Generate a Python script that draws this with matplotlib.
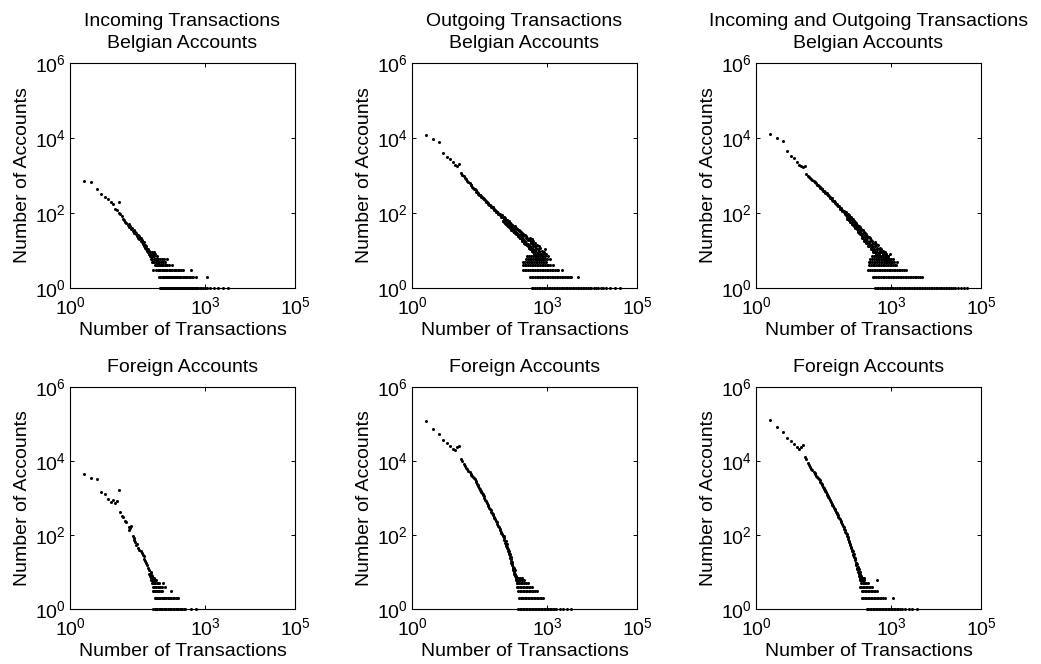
import matplotlib
matplotlib.use("Agg")
import matplotlib.pyplot as plt

plt.rcParams['font.family'] = ['Liberation Sans', 'DejaVu Sans']
plt.rcParams['mathtext.default'] = 'regular'

# ---- Incoming, Belgian accounts ----
ib_x = [2, 3, 4, 5, 6, 7, 8, 9, 10, 11, 12, 12, 13, 14, 15, 16, 17, 18, 19, 20, 21, 22, 23, 24, 25,
        26, 27, 28, 29, 30, 31, 32, 33, 34, 35, 36, 37, 38, 39, 40, 41, 42, 43, 44, 45, 46, 47, 48, 49,
        50, 52, 53, 55, 56, 58, 60, 62, 64]
ib_y = [724, 656, 444, 316, 271, 233, 200, 174, 126, 118, 200, 102, 92, 85, 70, 66, 58, 55, 48, 50,
        42, 44, 38, 40, 33, 36, 30, 31, 27, 29, 24, 26, 22, 25, 20, 21, 18, 22, 17, 19, 15, 16, 14, 17,
        13, 14, 12, 13, 11, 12, 10, 11, 9, 10, 8, 9, 8, 7]
ib_rows = {
    9: [55, 66, 72],
    8: [58, 63, 70, 78],
    7: [60, 66, 70, 75, 84],
    6: [64, 68, 72, 76, 80, 86, 92, 100, 110, 125, 140],
    5: [66, 70, 75, 80, 85, 90, 96, 104, 115, 130],
    4: [77, 80, 84, 88, 92, 96, 100, 106, 112, 118, 126, 135, 145, 160, 182],
    3: [71, 80, 88, 95, 102, 108, 115, 122, 130, 138, 146, 155, 165, 175, 188, 200, 215, 230, 250,
        270, 300, 330, 480],
    2: [96, 102, 108, 114, 120, 127, 134, 141, 149, 157, 166, 175, 185, 195, 206, 218, 230, 243, 256,
        270, 285, 300, 318, 336, 355, 375, 400, 430, 470, 510, 550, 640, 1120],
    1: [100, 105, 110, 116, 122, 128, 135, 142, 150, 158, 166, 175, 185, 195, 205, 216, 228, 240, 253,
        266, 280, 295, 310, 327, 345, 363, 382, 402, 424, 446, 470, 495, 520, 548, 577, 608, 640, 674,
        710, 760, 820, 900, 1000, 1090, 1300, 1590, 1990, 2560, 3300],
}

# ---- Outgoing, Belgian accounts ----
ob_x = [2, 3, 4, 5, 6, 7, 8, 9, 10, 11, 12, 13, 14, 15, 16, 17, 18, 19, 20, 22, 24, 26, 28, 30, 32,
        34, 36, 38, 40, 43, 46, 50, 53, 56, 60, 64, 68, 72, 76, 80, 85, 90, 95, 100]
ob_y = [12300, 9600, 7900, 4100, 3200, 2700, 2300, 1950, 1800, 2050, 1170, 1060, 950, 870, 790, 725,
        665, 615, 575, 500, 445, 400, 363, 330, 302, 280, 263, 246, 234, 214, 198, 178, 166, 155, 143,
        134, 124, 115, 108, 100, 93, 87, 81, 76]
ob_cx = [21, 23, 25, 27, 29, 31, 33, 35, 37, 39, 42, 45, 48, 52, 55, 58, 62, 66, 70, 74, 78, 83, 88,
         93, 98,
         103, 106, 110, 112, 115, 118, 121, 124, 127, 130, 134, 138, 142, 146, 150, 155, 160, 165, 170,
         175, 180, 186, 192, 198, 205, 212, 219, 226, 233, 240, 248, 256, 264, 272, 281, 290, 300, 310,
         320, 330, 341, 352, 364, 376, 388, 400, 414, 428, 442, 456, 470, 485, 500, 520, 540, 560, 580,
         600, 620, 650, 680, 720, 760, 800, 850, 900, 960,
         108, 120, 132, 144, 156, 168, 182, 196, 210, 228, 245, 262, 280, 300, 322, 345, 370, 395, 420,
         450, 480, 510, 545, 590, 640, 700, 760,
         101, 105, 109, 114, 117, 123, 129, 135, 140, 147, 153, 162, 171, 183, 190, 203, 214, 230, 238,
         252, 268, 285, 295, 315, 335, 358, 380, 405, 432, 460, 490, 525, 565, 610, 660, 730, 820, 1000,
         420, 460, 500, 540, 600, 650, 700, 780, 850, 890, 950, 1050, 1150, 530, 620, 710, 800, 910]
ob_cy = [560, 455, 430, 370, 350, 305, 295, 262, 258, 232, 225, 192, 185, 163, 162, 141, 142, 122, 121,
         106, 108, 92, 94, 80, 82,
         80, 62, 76, 58, 70, 54, 66, 50, 64, 47, 60, 45, 57, 42, 53, 39, 50, 36, 48, 34, 45, 31, 44, 29,
         40, 27, 38, 25, 36, 23, 34, 21, 32, 19, 30, 18, 27, 16, 26, 15, 24, 14, 22, 13, 20, 12, 19, 11,
         17, 10, 16, 9, 15, 8, 13, 7, 12, 6, 11, 9, 10, 8, 7, 9, 6, 7, 5,
         68, 60, 53, 48, 45, 41, 37, 34, 31, 28, 26, 24, 22, 20, 18, 16, 15, 14, 13, 12, 11, 10, 9, 8,
         7, 6, 6,
         88, 60, 80, 55, 74, 50, 66, 45, 60, 41, 55, 36, 48, 31, 42, 28, 37, 24, 33, 21, 28, 18, 25, 16,
         22, 14, 19, 12, 16, 10, 13, 8, 11, 6, 8, 6, 8, 6,
         22, 20, 18, 16, 14, 13, 12, 10, 9, 11, 8, 7, 6, 10, 9, 8, 7, 6]
ob_rows = {
    7: [360, 400, 440, 480, 530, 580, 640, 700],
    6: [340, 375, 410, 450, 490, 540, 590, 650, 720, 800],
    5: [300, 330, 360, 395, 430, 470, 515, 560, 610, 670, 730, 800, 870],
    4: [296, 322, 350, 382, 416, 453, 494, 538, 586, 640, 697, 760, 828, 902, 983, 1070, 1170, 1380],
    3: [296, 322, 350, 382, 416, 453, 494, 538, 586, 640, 697, 760, 828, 902, 983, 1070, 1170, 1270,
        1390, 1510, 1650, 1800, 2150],
    2: [420, 455, 495, 540, 590, 640, 700, 760, 830, 900, 980, 1070, 1160, 1270, 1380, 1500, 1640,
        1780, 1940, 2120, 2310, 2520, 2750, 3000, 3270, 3500, 5000],
    1: [457, 500, 545, 595, 650, 710, 775, 845, 920, 1000, 1090, 1190, 1300, 1420, 1550, 1690, 1840,
        2000, 2180, 2380, 2600, 2840, 3100, 3380, 3690, 4020, 4390, 4790, 5220, 5700, 6200, 6800, 7400,
        8100, 8800, 9600, 11000, 12500, 13800, 15500, 17800, 21000, 25000, 32000, 42000],
}

# ---- Incoming and outgoing, Belgian accounts ----
iob_x = [2, 3, 4, 5, 6, 7, 8, 9, 10, 11, 12, 13, 14, 15, 16, 17, 18, 19, 20, 22, 24, 26, 28, 30, 32,
         34, 36, 38, 40, 43, 46, 50, 53, 56, 60, 64, 68, 72, 76, 80, 85, 90, 95, 100]
iob_y = [12600, 9700, 8100, 4450, 3400, 2900, 2350, 1850, 1750, 1700, 1820, 1100, 1000, 930, 870, 810,
         760, 720, 680, 615, 550, 500, 460, 425, 390, 365, 340, 318, 300, 275, 253, 228, 213, 196, 178,
         163, 150, 140, 130, 121, 112, 104, 97, 91]
iob_cx = [21, 23, 25, 27, 29, 31, 33, 35, 37, 39, 42, 45, 48, 52, 55, 58, 62, 66, 70, 74, 78, 83, 88,
          93, 98,
          103, 106, 110, 112, 115, 118, 121, 124, 127, 130, 134, 138, 142, 146, 150, 155, 160, 165, 170,
          175, 180, 186, 192, 198, 205, 212, 219, 226, 233, 240, 248, 256, 264, 272, 281, 290, 300, 310,
          320, 330, 341, 352, 364, 376, 388, 400, 414, 428, 442, 456, 470, 485, 500, 520, 540, 560, 580,
          600, 620, 650, 680, 720, 760, 800, 850, 900, 960,
          108, 120, 132, 144, 156, 168, 182, 196, 210, 228, 245, 262, 280, 300, 322, 345, 370, 395, 420,
          450, 480, 510, 545, 590, 640, 700, 760,
          101, 105, 109, 114, 117, 123, 129, 135, 140, 147, 153, 162, 171, 183, 190, 203, 214, 230, 238,
          252, 268, 285, 295, 315, 335, 358, 380, 405, 432, 460, 490, 525, 565, 610, 660, 730, 820, 1000,
          430, 470, 520, 560, 610, 660, 720, 790, 860, 940, 1020, 1120, 580, 680, 770, 880]
iob_cy = [660, 570, 530, 470, 450, 395, 385, 342, 338, 298, 290, 250, 246, 212, 206, 180, 178, 152,
          150, 130, 132, 112, 113, 96, 98,
          95, 76, 90, 70, 84, 65, 80, 60, 75, 56, 70, 52, 66, 48, 61, 44, 57, 40, 53, 37, 49, 33, 45,
          30, 42, 27, 38, 24, 35, 22, 32, 20, 29, 18, 27, 16, 25, 15, 23, 13, 21, 12, 19, 11, 18, 10,
          16, 9, 15, 8, 14, 7, 12, 6, 11, 9, 10, 7, 9, 8, 6, 7, 8, 6, 7, 5, 6,
          80, 71, 62, 55, 50, 44, 39, 35, 31, 27, 24, 22, 20, 18, 16, 14, 13, 12, 11, 10, 9, 8, 8, 7,
          7, 6, 5,
          104, 71, 94, 64, 86, 59, 78, 52, 70, 46, 61, 39, 51, 32, 43, 27, 36, 22, 30, 18, 25, 16, 22,
          13, 18, 11, 15, 9, 13, 8, 11, 6, 9, 7, 8, 6, 7, 5,
          17, 15, 14, 12, 11, 10, 9, 8, 7, 8, 6, 6, 9, 8, 7, 6]
iob_rows = {
    7: [380, 420, 460, 505, 555, 610, 670, 740],
    6: [350, 385, 420, 460, 505, 550, 600, 660, 720, 790, 870],
    5: [320, 350, 380, 415, 452, 493, 537, 585, 638, 695, 758, 826, 900, 980, 1070, 1160, 1350],
    4: [330, 360, 392, 428, 466, 508, 554, 604, 658, 717, 782, 852, 929, 1012, 1100, 1200, 1300],
    3: [316, 344, 375, 409, 446, 486, 530, 577, 629, 686, 748, 815, 888, 968, 1055, 1150, 1254, 1367,
        1490, 1624, 1770, 1930, 2150],
    2: [390, 425, 463, 505, 550, 600, 654, 713, 777, 847, 923, 1006, 1097, 1195, 1303, 1420, 1548,
        1687, 1839, 2005, 2185, 2382, 2596, 2830, 3085, 3362, 3665, 3995, 4354, 4800],
    1: [440, 480, 523, 570, 621, 677, 738, 804, 877, 956, 1040, 1135, 1240, 1350, 1470, 1600, 1745,
        1900, 2075, 2260, 2460, 2680, 2925, 3190, 3475, 3790, 4130, 4500, 4900, 5350, 5830, 6350, 6920,
        7550, 8230, 8970, 9780, 10660, 11620, 12660, 13800, 15000, 16400, 17900, 19500, 21300, 24000,
        27000, 31000, 36000, 42000, 50000],
}

# ---- Incoming, foreign accounts ----
if_x = [2, 3, 4, 5, 6, 7, 8, 9, 10, 11, 12, 13, 14, 15, 17, 18, 20, 21, 22, 23, 25, 26, 27, 28, 30,
        31, 33, 35, 37, 39, 41, 43, 45, 47, 50, 52, 55, 58, 60, 63, 66, 70, 74]
if_y = [4400, 3550, 3250, 1420, 1300, 930, 800, 900, 730, 840, 1650, 425, 330, 300, 240, 225, 167, 137,
        150, 175, 95, 81, 75, 66, 54, 58, 44, 40, 36, 33, 29, 27, 23, 20, 17, 15, 13, 11, 9, 10, 8, 7, 6]
if_rows = {
    9: [58, 62],
    8: [60, 64, 68],
    7: [62, 66, 70, 73],
    6: [64, 68, 72, 76, 82],
    5: [66, 70, 74, 79, 84, 90, 96, 115],
    4: [70, 74, 78, 83, 88, 94, 100, 110, 130],
    3: [71, 75, 79, 83, 87, 92, 97, 103, 110, 180],
    2: [77, 81, 86, 91, 96, 102, 108, 115, 122, 130, 138, 147, 157, 168, 180, 193, 207, 222, 238, 257],
    1: [71, 76, 81, 87, 93, 99, 106, 113, 121, 129, 138, 147, 157, 168, 180, 193, 207, 222, 238, 256,
        275, 295, 316, 338, 360, 500, 630],
}

# ---- Outgoing, foreign accounts ----
of_x = [2, 3, 4, 5, 6, 7, 8, 9, 10, 11,
        12, 13, 14, 15, 16, 17, 18, 19, 20, 21, 22, 23, 24, 25, 26, 27, 28, 29, 30, 31, 32, 33, 34, 35,
        36, 37, 38, 39, 40, 42, 44, 46, 48, 50, 52, 54, 56, 58, 60, 62, 64, 66, 68, 70, 73, 76, 79, 82,
        85, 88, 91, 94, 97, 100]
of_y = [120000, 73000, 54000, 37000, 30000, 25600, 21600, 19500, 23500, 26000,
        11200, 10000, 8500, 7400, 6500, 5900, 5400, 4900, 4500, 4200, 3950, 3700, 3450, 3200, 2900,
        2650, 2450, 2250, 2050, 1900, 1780, 1630, 1520, 1420, 1330, 1250, 1170, 1100, 1030, 910, 830,
        740, 665, 605, 550, 500, 465, 425, 395, 365, 340, 315, 293, 270, 240, 220, 198, 178, 162, 148,
        135, 123, 113, 105]
of_cx = [104, 108, 110, 112, 115, 118, 120, 122, 125, 127, 130, 132, 135, 137, 140, 142, 145, 148, 150,
         152, 155, 157, 160, 162, 165, 168, 170, 172, 175, 178, 180, 183, 185, 188, 190, 193, 196, 200,
         205, 210, 215, 220, 225]
of_cy = [96, 85, 92, 74, 70, 62, 68, 55, 50, 56, 44, 48, 38, 42, 33, 36, 30, 27, 31, 24, 22, 26, 20, 17,
         19, 15, 16, 13, 14, 12, 11, 13, 10, 9, 11, 8, 9, 7, 8, 6, 7, 5, 6]
of_rows = {
    7: [210, 228, 250, 275],
    6: [215, 235, 255, 280, 305],
    5: [220, 240, 262, 285, 310, 340, 370],
    4: [213, 230, 248, 268, 290, 313, 338, 365, 394, 426, 457],
    3: [230, 248, 268, 290, 313, 338, 365, 394, 426, 460, 500, 545, 590],
    2: [240, 258, 278, 300, 324, 350, 378, 408, 440, 475, 513, 554, 598, 646, 698, 754, 830],
    1: [230, 248, 268, 290, 313, 338, 365, 394, 426, 460, 497, 537, 580, 626, 676, 730, 790, 853, 921,
        995, 1075, 1160, 1250, 1350, 1460, 1600, 1900, 2300, 2800, 3500],
}

# ---- Incoming and outgoing, foreign accounts ----
iof_x = [2, 3, 4, 5, 6, 7, 8, 9, 10, 11,
         12, 13, 14, 15, 16, 17, 18, 19, 20, 21, 22, 23, 24, 25, 26, 27, 28, 29, 30, 31, 32, 33, 34, 35,
         36, 37, 38, 39, 40, 42, 44, 46, 48, 50, 52, 54, 56, 58, 60, 62, 64, 66, 68, 70, 73, 76, 79, 82,
         85, 88, 91, 94, 97, 100]
iof_y = [127000, 81000, 60000, 43000, 34000, 29000, 24500, 21000, 23500, 27000,
         13000, 11500, 8900, 7800, 6900, 6200, 5600, 5100, 4700, 4350, 4050, 3800, 3550, 3300, 3000,
         2750, 2550, 2350, 2200, 2000, 1870, 1730, 1620, 1510, 1410, 1320, 1240, 1160, 1090, 980, 880,
         790, 710, 650, 590, 540, 500, 460, 425, 390, 365, 340, 315, 295, 265, 240, 218, 198, 180, 163,
         148, 135, 124, 115]
iof_cx = [104, 107, 110, 113, 116, 119, 122, 125, 128, 131, 134, 137, 140, 143, 146, 149, 152, 155, 158,
          161, 164, 167, 170, 173, 176, 179, 182, 185, 188, 191, 194, 197, 200, 205, 210, 215, 220, 230,
          240, 260]
iof_cy = [104, 95, 86, 78, 70, 66, 58, 55, 48, 45, 40, 36, 38, 31, 28, 30, 25, 23, 21, 24, 18, 17, 15,
          16, 13, 12, 14, 11, 10, 12, 9, 8, 10, 9, 7, 8, 6, 7, 6, 5]
iof_rows = {
    7: [205, 225, 248],
    6: [210, 230, 252, 480],
    5: [215, 235, 256, 280, 305],
    4: [204, 220, 238, 257, 278, 300, 324, 350, 370],
    3: [224, 242, 261, 282, 305, 329, 355, 384, 414, 447, 480],
    2: [224, 242, 261, 282, 305, 329, 355, 384, 414, 447, 483, 522, 563, 608, 657, 740, 1120],
    1: [290, 313, 338, 365, 394, 426, 460, 497, 537, 580, 626, 676, 730, 790, 853, 921, 995, 1075,
        1160, 1250, 1350, 1460, 1600, 1800, 2100, 2500, 3000, 3700],
}

titles = ["Incoming Transactions\nBelgian Accounts", "Outgoing Transactions\nBelgian Accounts",
          "Incoming and Outgoing Transactions\nBelgian Accounts",
          "Foreign Accounts", "Foreign Accounts", "Foreign Accounts"]
x_ticks = [1, 1e3, 1e5]
x_tick_labels = ["$10^0$", "$10^3$", "$10^5$"]
y_ticks = [1, 1e2, 1e4, 1e6]
y_tick_labels = ["$10^0$", "$10^2$", "$10^4$", "$10^6$"]

panels = [
    (ib_x, ib_y, [], [], ib_rows),
    (ob_x, ob_y, ob_cx, ob_cy, ob_rows),
    (iob_x, iob_y, iob_cx, iob_cy, iob_rows),
    (if_x, if_y, [], [], if_rows),
    (of_x, of_y, of_cx, of_cy, of_rows),
    (iof_x, iof_y, iof_cx, iof_cy, iof_rows),
]

W, H = 1041, 664
fig = plt.figure(figsize=(W / 100, H / 100), dpi=100)

lefts = [70, 412, 756]
tops = [63, 387]
heights = [225, 222]
width = 225
fs = 14

for i, (px, py, cx, cy, rows) in enumerate(panels):
    r, c = divmod(i, 3)
    ax = fig.add_axes([lefts[c] / W, 1 - (tops[r] + heights[r]) / H, width / W, heights[r] / H])
    style = dict(color="k", marker="o", ms=2.2, mew=0, ls="none", clip_on=False, zorder=3)
    ax.plot(px, py, **style)
    if cx:
        ax.plot(cx, cy, **style)
    for count, xs in rows.items():
        ax.plot(xs, [count] * len(xs), **style)
    ax.set_xscale("log")
    ax.set_yscale("log")
    ax.set_xlim(1, 1e5)
    ax.set_ylim(1, 1e6)
    ax.set_xticks(x_ticks)
    ax.set_xticklabels(x_tick_labels)
    ax.set_yticks(y_ticks)
    ax.set_yticklabels(y_tick_labels)
    ax.minorticks_off()
    ax.tick_params(direction="in", top=True, right=True, length=3, width=0.7,
                   labelsize=fs, pad=3)
    ax.tick_params(axis="x", pad=6)
    for s in ax.spines.values():
        s.set_linewidth(0.8)
    ax.set_xlabel("Number of Transactions", fontsize=fs, labelpad=3)
    ax.set_ylabel("Number of Accounts", fontsize=fs, labelpad=3)
    ax.set_title(titles[i], fontsize=fs, pad=11, linespacing=1.35)

fig.savefig("out.png", dpi=100)
